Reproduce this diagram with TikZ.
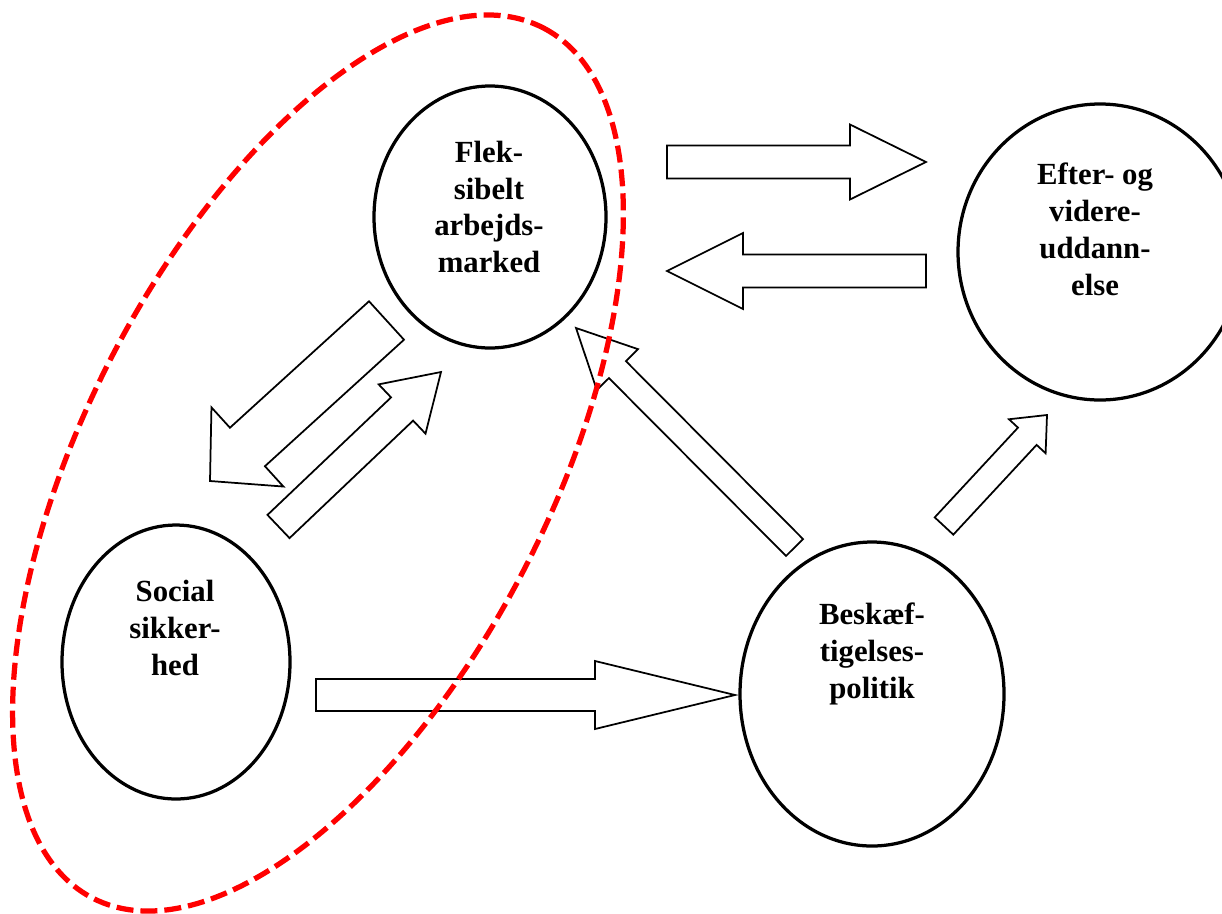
\documentclass[tikz,border=0pt]{standalone}
\usepackage{fontspec}
\setmainfont{Liberation Serif}
\usetikzlibrary{calc,shapes.geometric}
\tikzset{
  circ/.style={draw=black, line width=0.065cm, ellipse, inner sep=0pt, fill=none},
  lbl/.style={align=center, font=\fontsize{17.5}{21}\selectfont\bfseries, inner sep=0pt},
  barrow/.style={draw=black, fill=white, line width=0.035cm, line join=miter},
  groupline/.style={draw=red, line width=0.105cm, dash pattern=on 0.34cm off 0.14cm}
}
\newcommand\blockarr[5]{%
  \coordinate (hb) at ($(#2)!#5*0.02cm!(#1)$);
  \draw[barrow] ($(#1)!#3*0.02cm!90:(#2)$) -- ($(hb)!#3*0.02cm!90:(#2)$)
    -- ($(hb)!#4*0.02cm!90:(#2)$) -- (#2) -- ($(hb)!#4*0.02cm!-90:(#2)$)
    -- ($(hb)!#3*0.02cm!-90:(#2)$) -- ($(#1)!#3*0.02cm!-90:(#2)$) -- cycle;
}
\begin{document}
\begin{tikzpicture}[x=0.02cm, y=-0.02cm]
\useasboundingbox (0,0) rectangle (1222,913);
\clip (0,0) rectangle (1222,913);
\fill[white] (0,0) rectangle (1222,913);

% ellipses
\node[circ, minimum width=232*0.02cm, minimum height=262*0.02cm] (flek) at (490,217) {};
\node[circ, minimum width=284*0.02cm, minimum height=296*0.02cm] (efter) at (1100,252) {};
\node[circ, minimum width=228*0.02cm, minimum height=274*0.02cm] (social) at (176,662) {};
\node[circ, minimum width=264*0.02cm, minimum height=304*0.02cm] (besk) at (872,694) {};

% labels
\node[lbl] (flekt) at ($(flek)+(-1,-10)$) {Flek-\\sibelt\\arbejds-\\marked};
\node[lbl] (eftert) at ($(efter)+(-5,-23)$) {Efter- og\\videre-\\uddann-\\else};
\node[lbl] (socialt) at ($(social)+(-1,-34)$) {Social\\sikker-\\hed};
\node[lbl] (beskt) at ($(besk)+(0,-40)$) {Beskæf-\\tigelses-\\politik};

% arrow end points
\coordinate (a1t) at (667,162);   \coordinate (a1h) at (926,162);
\coordinate (a2t) at (926,271);   \coordinate (a2h) at (667,271);
\coordinate (a3t) at (386.5,320.5); \coordinate (a3h) at (210,481);
\coordinate (a4t) at (278.5,526.5); \coordinate (a4h) at (441,372);
\coordinate (a5t) at (794.5,547.5); \coordinate (a5h) at (576,328);
\coordinate (a6t) at (944,526);   \coordinate (a6h) at (1047,415);
\coordinate (a7t) at (316,695);   \coordinate (a7h) at (735,695);

\blockarr{a1t}{a1h}{16.5}{37.5}{76}
\blockarr{a2t}{a2h}{16.5}{38}{76}
\blockarr{a3t}{a3h}{26}{53.5}{50.6}
\blockarr{a4t}{a4h}{16}{34}{53.7}
\blockarr{a5t}{a5h}{12}{29}{58.7}
\blockarr{a6t}{a6h}{12.7}{25}{29}
\blockarr{a7t}{a7h}{16}{34}{140}

% grouping ellipse
\coordinate (gc) at (318,463);
\draw[groupline, rotate around={62.6:(gc)}] (gc) ellipse [x radius=490, y radius=232];
\end{tikzpicture}
\end{document}
